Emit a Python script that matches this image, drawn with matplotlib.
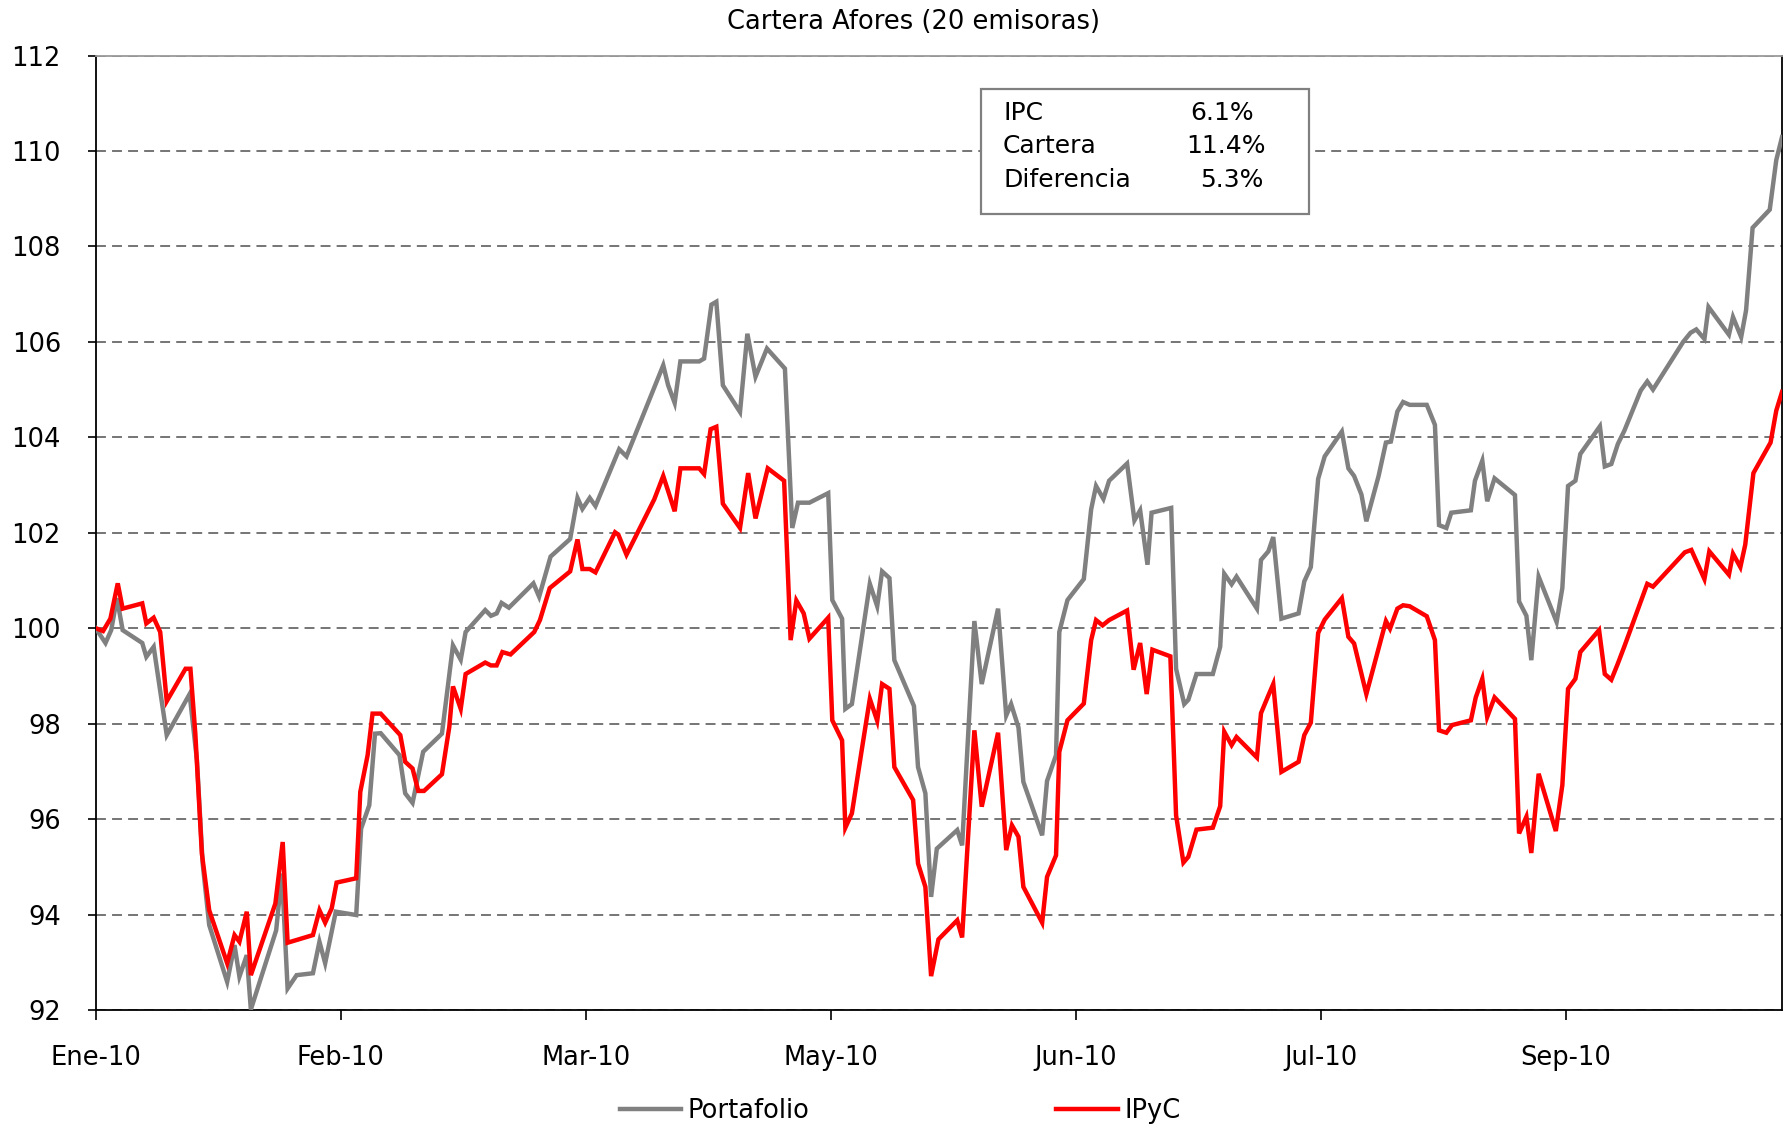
import matplotlib
matplotlib.use("Agg")
import matplotlib.pyplot as plt
from matplotlib.patches import Rectangle
from matplotlib.lines import Line2D

plt.rcParams['font.family'] = ['DejaVu Sans']

# ---------------- data (x = trading-day position, 30 days between labels) ----------------
tick_pos = [0, 30, 60, 90, 120, 150, 180]
tick_labels = ["Ene-10", "Feb-10", "Mar-10", "May-10", "Jun-10", "Jul-10", "Sep-10"]
y_ticks = [92, 94, 96, 98, 100, 102, 104, 106, 108, 110, 112]

port_x = [0, 1.2, 1.9, 2.6, 3.3, 5.7, 6.2, 7.1, 8.7, 11.5, 12.4, 13.1, 13.9, 16.1, 17.0, 17.6, 18.5, 19.0,
          22.1, 22.8, 23.5, 24.6, 26.6, 27.4, 28.1, 29.4, 31.9, 32.5, 33.5, 34.2, 34.9, 37.2, 37.9, 38.8,
          40.1, 42.4, 43.75, 44.7, 45.3, 47.7, 48.4, 49.1, 49.7, 50.6, 53.6, 54.3, 55.7, 58.1, 59.0, 59.6,
          60.5, 61.2, 64.1, 65.0, 69.5, 70.1, 70.9, 71.6, 73.9, 74.5, 75.4, 76.0, 76.8, 78.9, 79.8, 80.8,
          82.2, 84.4, 85.3, 86.0, 87.4, 89.7, 90.2, 91.4, 91.8, 92.6, 94.8, 95.7, 96.3, 97.2, 97.8, 100.2,
          100.7, 101.6, 102.3, 103.0, 105.5, 106.1, 107.6, 108.5, 110.5, 111.5, 112.1, 113.0, 113.6, 115.9,
          116.5, 117.6, 118.0, 119.0, 121.0, 121.9, 122.5, 123.4, 124.1, 126.3, 127.2, 127.9, 128.8, 129.3,
          131.7, 132.3, 133.3, 133.8, 134.8, 136.8, 137.7, 138.2, 139.1, 139.7, 142.2, 142.7, 143.6, 144.2,
          145.2, 147.3, 148.0, 148.8, 149.7, 150.5, 152.6, 153.4, 154.1, 155.0, 155.6, 157.1, 158.0, 158.6,
          159.4, 160.1, 160.9, 163.0, 164.0, 164.5, 165.4, 166.0, 168.4, 168.9, 169.8, 170.4, 171.3, 173.8,
          174.3, 175.2, 175.8, 176.7, 178.9, 179.6, 180.3, 181.2, 181.8, 184.2, 184.8, 185.6, 186.4, 187.2,
          189.2, 190.0, 190.7, 194.4, 195.3, 196.0, 197.0, 197.5, 200.0, 200.5, 201.5, 202.1, 202.9, 205.0,
          205.8, 206.5]
port_y = [100.0, 99.69, 99.96, 100.63, 99.96, 99.69, 99.4, 99.61, 97.76, 98.62, 97.23, 95.07, 93.78, 92.59,
          93.36, 92.70, 93.15, 92.01, 93.67, 94.86, 92.45, 92.73, 92.77, 93.43, 92.98, 94.06, 93.99, 95.8,
          96.29, 97.79, 97.80, 97.34, 96.54, 96.34, 97.41, 97.79, 99.64, 99.34, 99.92, 100.38, 100.26, 100.31,
          100.53, 100.43, 100.94, 100.66, 101.5, 101.87, 102.73, 102.5, 102.73, 102.56, 103.75, 103.6, 105.51,
          105.09, 104.72, 105.59, 105.59, 105.65, 106.78, 106.84, 105.09, 104.53, 106.17, 105.27, 105.86,
          105.44, 102.1, 102.63, 102.63, 102.83, 100.59, 100.2, 98.31, 98.41, 100.93, 100.46, 101.19, 101.05,
          99.33, 98.37, 97.09, 96.54, 94.37, 95.38, 95.77, 95.45, 100.15, 98.83, 100.41, 98.17, 98.41, 97.92,
          96.78, 95.66, 96.80, 97.34, 99.92, 100.59, 101.03, 102.49, 102.98, 102.71, 103.09, 103.45, 102.26,
          102.47, 101.33, 102.42, 102.52, 99.15, 98.41, 98.50, 99.04, 99.04, 99.61, 101.14, 100.92, 101.08,
          100.41, 101.43, 101.61, 101.91, 100.2, 100.31, 100.98, 101.28, 103.13, 103.6, 104.12, 103.35,
          103.19, 102.8, 102.24, 103.19, 103.89, 103.91, 104.54, 104.74, 104.68, 104.68, 104.26, 102.16,
          102.10, 102.42, 102.47, 103.09, 103.51, 102.66, 103.14, 102.79, 100.56, 100.26, 99.33, 101.08,
          100.13, 100.84, 102.98, 103.09, 103.65, 104.23, 103.39, 103.44, 103.86, 104.14, 104.98, 105.17,
          105.0, 106.0, 106.19, 106.26, 106.06, 106.73, 106.15, 106.52, 106.10, 106.66, 108.39, 108.77,
          109.81, 110.29]

ipyc_x = [0, 0.9, 1.8, 2.7, 3.3, 5.7, 6.2, 7.1, 7.9, 8.7, 11.0, 11.6, 12.2, 13.0, 13.9, 16.1, 17.0, 17.6,
          18.5, 19.0, 22.0, 22.9, 23.5, 26.6, 27.4, 28.1, 28.9, 29.5, 31.9, 32.4, 33.3, 33.9, 34.9, 37.3,
          37.9, 38.8, 39.5, 40.2, 42.4, 43.3, 43.75, 44.7, 45.3, 47.7, 48.4, 49.1, 49.8, 50.8, 53.7, 54.4,
          55.6, 58.1, 59.0, 59.6, 60.5, 61.2, 63.6, 64.0, 65.0, 68.4, 69.5, 70.9, 71.6, 73.9, 74.5, 75.3,
          76.0, 76.8, 78.9, 79.9, 80.8, 82.3, 84.3, 85.1, 85.8, 86.7, 87.4, 89.7, 90.2, 91.4, 91.8, 92.6,
          93.8, 94.8, 95.7, 96.3, 97.2, 97.8, 100.1, 100.7, 101.6, 102.3, 103.2, 105.5, 106.1, 107.6, 108.5,
          110.5, 111.5, 112.2, 113.0, 113.6, 115.9, 116.5, 117.6, 118.0, 119.0, 121.0, 121.9, 122.5, 123.3,
          124.1, 126.3, 127.1, 127.9, 128.7, 129.4, 131.6, 132.3, 133.2, 133.8, 134.8, 136.8, 137.7, 138.2,
          139.1, 139.7, 142.2, 142.7, 143.6, 144.2, 145.2, 147.3, 148.0, 148.8, 149.7, 150.5, 152.6, 153.4,
          154.1, 155.6, 158.0, 158.5, 159.4, 160.1, 160.9, 163.0, 164.0, 164.5, 165.4, 166.1, 168.4, 169.0,
          169.8, 170.4, 171.3, 173.8, 174.3, 175.2, 175.8, 176.7, 178.8, 179.6, 180.3, 181.2, 181.8, 184.1,
          184.8, 185.6, 186.4, 187.2, 190.0, 190.7, 194.6, 195.4, 197.0, 197.6, 200.0, 200.5, 201.4, 202.0,
          203.0, 205.1, 205.8, 206.5]
ipyc_y = [100.0, 99.94, 100.2, 100.94, 100.41, 100.52, 100.1, 100.22, 99.92, 98.47, 99.15, 99.15, 97.79,
          95.28, 94.09, 92.98, 93.57, 93.43, 94.06, 92.73, 94.23, 95.52, 93.41, 93.57, 94.09, 93.83, 94.13,
          94.67, 94.76, 96.57, 97.34, 98.21, 98.21, 97.76, 97.2, 97.06, 96.59, 96.59, 96.94, 97.93, 98.78,
          98.31, 99.04, 99.28, 99.22, 99.22, 99.5, 99.45, 99.92, 100.17, 100.84, 101.19, 101.86, 101.24,
          101.24, 101.17, 102.01, 101.96, 101.54, 102.70, 103.19, 102.45, 103.35, 103.35, 103.23, 104.17,
          104.22, 102.61, 102.10, 103.25, 102.30, 103.35, 103.09, 99.75, 100.58, 100.31, 99.78, 100.22, 98.07,
          97.65, 95.82, 96.12, 97.44, 98.52, 98.06, 98.83, 98.73, 97.09, 96.40, 95.07, 94.58, 92.71, 93.48,
          93.88, 93.52, 97.86, 96.26, 97.81, 95.35, 95.87, 95.63, 94.58, 93.83, 94.79, 95.24, 97.41, 98.07,
          98.42, 99.75, 100.17, 100.06, 100.17, 100.37, 99.13, 99.69, 98.62, 99.55, 99.41, 96.08, 95.09,
          95.21, 95.78, 95.82, 96.27, 97.83, 97.55, 97.72, 97.29, 98.22, 98.59, 98.83, 96.99, 97.2, 97.76,
          98.02, 99.9, 100.18, 100.63, 99.82, 99.68, 98.62, 100.15, 99.99, 100.41, 100.48, 100.46, 100.25,
          99.75, 97.86, 97.81, 97.97, 98.07, 98.55, 98.94, 98.14, 98.55, 98.1, 95.7, 96.05, 95.29, 96.95,
          95.75, 96.71, 98.73, 98.94, 99.5, 99.96, 99.04, 98.92, 99.26, 99.62, 100.93, 100.87, 101.59,
          101.64, 101.03, 101.61, 101.12, 101.56, 101.28, 101.75, 103.25, 103.89, 104.56, 104.95]

box_labels = ["IPC", "Cartera", "Diferencia"]
box_values = ["6.1%", "11.4%", "5.3%"]
title = "Cartera Afores (20 emisoras)"
series_names = ["Portafolio", "IPyC"]

# ---------------- figure ----------------
W, H = 1786, 1130
fig = plt.figure(figsize=(W / 100, H / 100), dpi=100)
fig.patch.set_facecolor("white")


def fx(px):
    return px / W


def fy(py):
    return 1 - py / H


ax = fig.add_axes([fx(95.7), fy(1010), fx(1782) - fx(95.7), fy(55.5) - fy(1010)])

gray = "#808080"
red = "#FF0000"
l1, = ax.plot(port_x, port_y, color=gray, lw=3.2, solid_joinstyle="miter", zorder=3)
l2, = ax.plot(ipyc_x, ipyc_y, color=red, lw=3.2, solid_joinstyle="miter", zorder=4)

ax.set_xlim(0, 206.5)
ax.set_ylim(92, 112)
ax.set_yticks(y_ticks)
ax.set_xticks(tick_pos)
ax.set_xticklabels(tick_labels)

ax.set_axisbelow(True)
ax.yaxis.grid(True, linestyle=(0, (6.5, 4)), color="#505050", lw=1.1)
ax.xaxis.grid(False)

for s in ["left", "bottom", "right"]:
    ax.spines[s].set_color("black")
    ax.spines[s].set_linewidth(1.3)
ax.spines["top"].set_color("#9a9a9a")
ax.spines["top"].set_linewidth(1.3)

ax.tick_params(axis="y", direction="out", length=6, width=1.2, pad=19, labelsize=18.5)
ax.tick_params(axis="x", direction="out", length=7, width=1.2, pad=18, labelsize=18.5)

fig.text(fx(913), fy(22), title, ha="center", va="center", fontsize=18.5)

# summary box
rect = Rectangle((fx(980.5), fy(214)), fx(1309.4) - fx(980.5), fy(89) - fy(214),
                 transform=fig.transFigure, facecolor="white", edgecolor=gray, lw=1.6, zorder=5)
fig.add_artist(rect)
rows_y = [120, 153, 187]
val_cx = [1222, 1226, 1232]
for lab, val, ry, cx in zip(box_labels, box_values, rows_y, val_cx):
    fig.text(fx(1003), fy(ry), lab, ha="left", va="baseline", fontsize=18, zorder=6)
    fig.text(fx(cx), fy(ry), val, ha="center", va="baseline", fontsize=18, zorder=6)

# legend
h1 = Line2D([], [], color=gray, lw=3.2)
h2 = Line2D([], [], color=red, lw=3.2)
fig.legend([h1, h2], series_names, loc="center", bbox_to_anchor=(fx(900), fy(1111)),
           ncol=2, frameon=False, fontsize=18.5, handlelength=2.4, handletextpad=0.25,
           columnspacing=9.6, borderpad=0, borderaxespad=0)

fig.savefig("out.png", dpi=100, facecolor="white")
